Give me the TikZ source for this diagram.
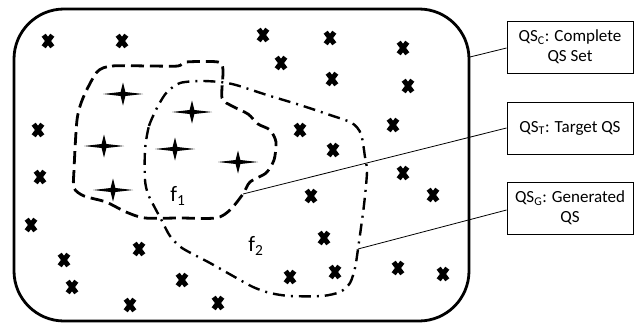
\documentclass[tikz,border=0pt]{standalone}
\usepackage{fontspec}
\setmainfont{Carlito}
\begin{document}
\begin{tikzpicture}[x=1pt,y=-1pt,
  legend/.style={draw,line width=0.9pt,fill=white,minimum width=126pt,minimum height=52pt,align=center,inner sep=2pt,font=\fontsize{17}{20}\selectfont},
  flabel/.style={font=\fontsize{22}{26}\selectfont,inner sep=0pt},
  conn/.style={line width=0.8pt},
  xmark/.pic={\draw[line width=5pt] (-4.3,-5.8) -- (4.3,5.8) (-4.3,5.8) -- (4.3,-5.8);},
  starmark/.pic={\fill (-20,0) -- (-2.4,-2) -- (0,-11.5) -- (2.4,-2) -- (20,0) -- (2.4,2) -- (0,11.5) -- (-2.4,2) -- cycle;},
  targetline/.style={line width=2.8pt,dash pattern=on 13pt off 6pt},
  genline/.style={line width=2.4pt,dash pattern=on 12pt off 6pt on 2pt off 6pt}
]
\useasboundingbox (0,0) rectangle (640,324);
% outer set
\draw[line width=2.8pt,rounded corners=50pt] (14,9) rectangle (469,321);
% crosses
\foreach \p in {(48,41),(122,41),(263,35),(281,63),(330,38),(403,48),(332,79),(408,86),
  (38,130),(300,130),(393,125),(333,150),(40,177),(403,173),(311,196),(433,195),
  (31,225),(324,238),(139,249),(64,260),(398,268),(335,272),(443,274),(290,277),
  (182,280),(72,287),(130,305),(218,303)}
  \pic at \p {xmark};
% stars
\foreach \p in {(123,94),(192,112),(104,146),(175,149),(238,162),(113,190)}
  \pic at \p {starmark};
% target QS region (dashed)
\draw[targetline] plot[smooth cycle,tension=0.45] coordinates {
  (97,72) (112,66) (150,66) (178,66) (186,62) (218,62) (223,70) (222,98)
  (232,106) (248,114) (258,124) (270,130) (276,142) (274,160) (266,173) (250,182)
  (243,194) (230,210) (216,218) (180,218) (145,218) (126,212) (106,202) (84,196)
  (74,188) (74,170) (77,120) (83,98)};
% generated QS region (dash dot)
\draw[genline] plot[smooth cycle,tension=0.45] coordinates {
  (145,150) (149,126) (158,106) (167,92) (180,83) (200,81) (220,82) (236,85)
  (267,95) (300,105) (330,115) (352,123) (361,134) (365,157) (367,172) (364,205)
  (358,249) (355,268) (350,283) (340,292) (322,296) (290,296) (270,293) (253,287)
  (233,276) (210,263) (182,248) (170,236) (162,221) (155,208) (148,194) (145,180)};
% labels
\node[flabel] (f1) at (178,196) {f\textsubscript{1}};
\node[flabel] (f2) at (256,246) {f\textsubscript{2}};
% legend boxes
\node[legend] (qsc) at (570,47) {QS\textsubscript{C}: Complete\\QS Set};
\node[legend] (qst) at (570,128) {QS\textsubscript{T}: Target QS};
\node[legend] (qsg) at (570,208) {QS\textsubscript{G}: Generated\\QS};
\coordinate (ec) at (470,57);
\coordinate (et) at (243,194);
\coordinate (eg) at (358,249);
\draw[conn] (qsc.west) ++(0,1) -- (ec);
\draw[conn] (qst.west) -- (et);
\draw[conn] (qsg.west) ++(0,2) -- (eg);
\end{tikzpicture}
\end{document}
